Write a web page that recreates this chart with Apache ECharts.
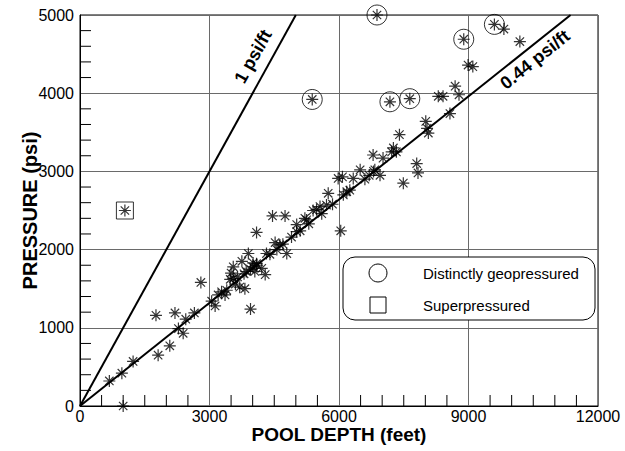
<!DOCTYPE html>
<html>
<head>
<meta charset="utf-8">
<script src="https://cdn.jsdelivr.net/npm/echarts@6/dist/echarts.min.js"></script>
<style>html,body{margin:0;padding:0;background:#fff}#c{width:625px;height:451px}</style>
</head>
<body>
<div id="c"></div>
<script>
// Pool depth (feet) and pressure (psi) for all pools (asterisks)
const depth = [1000,680,970,1230,1810,2080,1760,2200,2450,2650,2280,2390,2800,3130,3050,3200,3280,3360,3400,3480,3500,3550,3550,3600,3650,3700,3750,3800,3820,3850,3900,3950,3950,4000,4010,4050,4090,4100,4090,4210,4290,4320,4400,4460,4520,4560,4630,4700,4750,4790,4900,5020,5020,5100,5210,5250,5300,5400,5480,5560,5600,5710,5750,5850,5980,6040,6080,6100,6180,6250,6330,6490,6600,6700,6790,6800,6830,6950,7020,7220,7260,7330,7400,7490,7800,7830,8010,8040,8070,8300,8410,8570,8690,8780,8990,9100,9820,10190,5380,6880,7180,7640,8890,9600,1040];
const pressure = [0,320,420,570,650,770,1160,1190,1110,1190,990,930,1580,1280,1340,1420,1460,1420,1480,1620,1700,1780,1630,1560,1650,1520,1850,1690,1500,1720,1950,1750,1240,1780,1830,1720,1820,1800,2220,1760,1680,1950,1940,2430,2090,2000,2060,2070,2430,1950,2160,2230,2320,2240,2400,2380,2330,2500,2510,2550,2460,2570,2720,2580,2910,2240,2930,2700,2740,2760,2910,3020,2900,2950,3210,3000,3020,2950,3170,3250,3300,3250,3470,2850,3100,2980,3640,3550,3490,3960,3960,3740,4090,3980,4360,4340,4820,4660,3920,5000,3890,3930,4690,4880,2500];
// Distinctly geopressured pools (circled)
const geoDepth = [5380,6880,7180,7640,8890,9600];
const geoPressure = [3920,5000,3890,3930,4690,4880];
// Superpressured pool (boxed)
const superDepth = [1040];
const superPressure = [2500];
// Gradient reference lines: end points
const grad1 = [[0,0],[5000,5000]];
const grad044 = [[0,0],[11364,5000]];
const xTicks = [0,3000,6000,9000,12000];
const yTicks = [0,1000,2000,3000,4000,5000];
const xMinorTicks = [500,1000,1500,2000,2500,3500,4000,4500,5000,5500,6500,7000,7500,8000,8500,9500,10000,10500,11000,11500];
const yMinorTicks = [200,400,600,800,1200,1400,1600,1800,2200,2400,2600,2800,3200,3400,3600,3800,4200,4400,4600,4800];

const FONT = 'Liberation Sans, Arial, sans-serif';
const zip = (a,b) => a.map((v,i)=>[v,b[i]]);
const chart = echarts.init(document.getElementById('c'), null, {renderer:'svg'});
const lblX = {color:'#000',fontSize:16,fontFamily:FONT,margin:2,formatter:v=>String(v)};
const lblY = {color:'#000',fontSize:16,fontFamily:FONT,margin:6,formatter:v=>String(v)};
const nameStyleX = {color:'#000',fontSize:19,fontWeight:'bold',fontFamily:FONT};
const nameStyleY = {color:'#000',fontSize:20,fontWeight:'bold',fontFamily:FONT};
const xMin = xTicks[0], xMax = xTicks[xTicks.length-1], yMin = yTicks[0], yMax = yTicks[yTicks.length-1];
const TICK = 11;
chart.setOption({
  animation:false,
  backgroundColor:'#fff',
  grid:{left:80,right:27,top:15,bottom:45,containLabel:false,outerBoundsMode:'none',show:true,borderColor:'#000',borderWidth:1,backgroundColor:'transparent'},
  xAxis:{type:'value',min:xMin,max:xMax,interval:3000,name:'POOL DEPTH (feet)',nameLocation:'middle',nameGap:19,nameMoveOverlap:false,nameTextStyle:nameStyleX,
     axisLine:{show:true,lineStyle:{color:'#000',width:1}},axisTick:{show:false},axisLabel:lblX,
     splitLine:{show:true,lineStyle:{color:'#6a6a6a',width:1}}},
  yAxis:{type:'value',min:yMin,max:yMax,interval:1000,name:'PRESSURE (psi)',nameLocation:'middle',nameGap:40,nameMoveOverlap:false,nameRotate:90,nameTextStyle:nameStyleY,
     axisLine:{show:true,lineStyle:{color:'#000',width:1}},axisTick:{show:false},axisLabel:lblY,
     splitLine:{show:true,lineStyle:{color:'#6a6a6a',width:1}}},
  series:[
    {type:'custom',silent:true,z:2,data:xMinorTicks.map(v=>[v,yMin]),
      renderItem:(params,api)=>{const p=api.coord([api.value(0),api.value(1)]);
        return {type:'line',shape:{x1:p[0],y1:p[1],x2:p[0],y2:p[1]-TICK},style:{stroke:'#000',lineWidth:1}};}},
    {type:'custom',silent:true,z:2,data:yMinorTicks.map(v=>[xMin,v]),
      renderItem:(params,api)=>{const p=api.coord([api.value(0),api.value(1)]);
        return {type:'line',shape:{x1:p[0],y1:p[1],x2:p[0]+TICK,y2:p[1]},style:{stroke:'#000',lineWidth:1}};}},
    {type:'line',data:grad1,symbol:'none',lineStyle:{color:'#000',width:2},z:3,silent:true},
    {type:'line',data:grad044,symbol:'none',lineStyle:{color:'#000',width:2},z:3,silent:true},
    {type:'scatter',data:zip(depth,pressure),symbol:'path://M10,0L10,20M0,10L20,10M3,3L17,17M3,17L17,3',
      symbolSize:12,clip:false,itemStyle:{color:'none',borderColor:'#000',borderWidth:1.2},z:4},
    {type:'scatter',name:'Distinctly geopressured',data:zip(geoDepth,geoPressure),symbol:'circle',symbolSize:20,clip:false,
      itemStyle:{color:'none',borderColor:'#000',borderWidth:1},z:5},
    {type:'scatter',name:'Superpressured',data:zip(superDepth,superPressure),symbol:'rect',symbolSize:17,clip:false,
      itemStyle:{color:'none',borderColor:'#000',borderWidth:1},z:5}
  ]
});
const p1 = chart.convertToPixel({gridIndex:0},[4010,4470]);
const p2 = chart.convertToPixel({gridIndex:0},[10540,4430]);
chart.setOption({
  graphic:[
    {type:'text',x:p1[0],y:p1[1],rotation:61*Math.PI/180,z:10,
      style:{text:'1 psi/ft',fontSize:18,fontWeight:'bold',fontFamily:FONT,fill:'#000',align:'center',verticalAlign:'middle'}},
    {type:'text',x:p2[0],y:p2[1],rotation:38.6*Math.PI/180,z:10,
      style:{text:'0.44 psi/ft',fontSize:18,fontWeight:'bold',fontFamily:FONT,fill:'#000',align:'center',verticalAlign:'middle'}},
    {type:'group',z:20,children:[
      {type:'rect',shape:{x:343,y:257,width:252,height:63,r:12},style:{fill:'#fff',stroke:'#000',lineWidth:1}},
      {type:'circle',shape:{cx:378,cy:273,r:9},style:{fill:'none',stroke:'#000',lineWidth:1}},
      {type:'rect',shape:{x:370,y:297,width:16,height:16},style:{fill:'none',stroke:'#000',lineWidth:1}},
      {type:'text',x:423,y:273,style:{text:'Distinctly geopressured',fontSize:15,fontFamily:FONT,fill:'#000',verticalAlign:'middle'}},
      {type:'text',x:423,y:305,style:{text:'Superpressured',fontSize:15,fontFamily:FONT,fill:'#000',verticalAlign:'middle'}}
    ]}
  ]
});
</script>
</body>
</html>
